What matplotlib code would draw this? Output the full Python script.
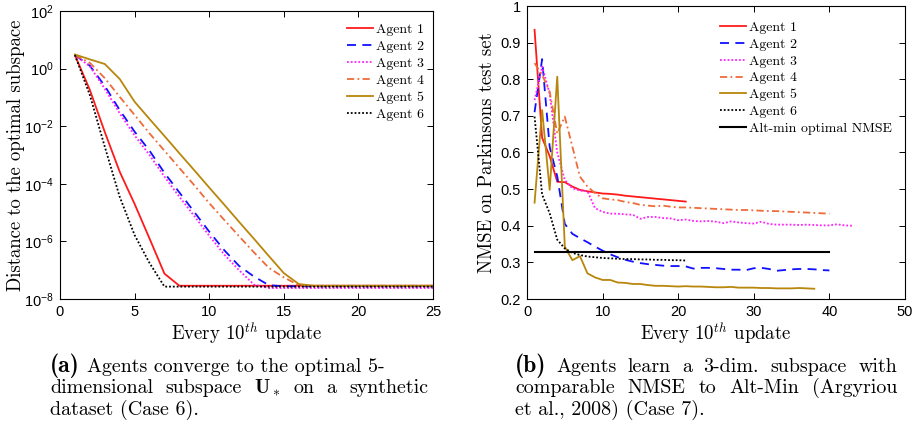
import matplotlib
matplotlib.use("Agg")
import matplotlib.pyplot as plt
import matplotlib.transforms as mtransforms
from matplotlib.ticker import FuncFormatter, NullLocator

# === dati: pannello (a), log10 della distanza dal sottospazio ottimo ===
steps_a = list(range(1, 26))
log_agent1_a = [0.47, -0.74, -2.2, -3.58, -4.7, -5.9, -7.12, -7.54, -7.54, -7.54,
                -7.54, -7.54, -7.54, -7.54, -7.54, -7.54, -7.54, -7.54, -7.54, -7.54,
                -7.54, -7.54, -7.54, -7.54, -7.54]
log_agent2_a = [0.47, 0.1, -0.6, -1.44, -2.19, -2.85, -3.62, -4.3, -4.98, -5.66,
                -6.3, -6.85, -7.22, -7.52, -7.56, -7.56, -7.56, -7.56, -7.56, -7.56,
                -7.56, -7.56, -7.56, -7.56, -7.56]
log_agent3_a = [0.47, 0.08, -0.7, -1.55, -2.32, -3.0, -3.75, -4.45, -5.12, -5.8,
                -6.45, -7.0, -7.5, -7.62, -7.62, -7.62, -7.62, -7.62, -7.62, -7.62,
                -7.62, -7.62, -7.62, -7.62, -7.62]
log_agent4_a = [0.47, 0.2, -0.33, -0.98, -1.61, -2.25, -2.85, -3.45, -4.05, -4.67,
                -5.25, -5.82, -6.38, -6.92, -7.25, -7.52, -7.54, -7.54, -7.54, -7.54,
                -7.54, -7.54, -7.54, -7.54, -7.54]
log_agent5_a = [0.49, 0.32, 0.16, -0.36, -1.15, -1.75, -2.34, -2.94, -3.53, -4.13,
                -4.72, -5.32, -5.91, -6.51, -7.1, -7.48, -7.54, -7.54, -7.54, -7.54,
                -7.54, -7.54, -7.54, -7.54, -7.54]
log_agent6_a = [0.47, -0.92, -2.71, -4.45, -5.78, -6.75, -7.57, -7.57, -7.57, -7.57,
                -7.57, -7.57, -7.57, -7.57, -7.57, -7.57, -7.57, -7.57, -7.57, -7.57,
                -7.57, -7.57, -7.57, -7.57, -7.57]

# === dati: pannello (b), NMSE sul test set Parkinsons ===
nmse_agent1 = [0.935, 0.64, 0.59, 0.52, 0.519, 0.507, 0.498, 0.494, 0.491, 0.488,
               0.487, 0.485, 0.482, 0.48, 0.478, 0.476, 0.474, 0.472, 0.47, 0.468, 0.466]
nmse_agent2 = [0.71, 0.855, 0.615, 0.535, 0.405, 0.378, 0.366, 0.355, 0.343, 0.332,
               0.322, 0.314, 0.307, 0.302, 0.298, 0.295, 0.293, 0.291, 0.29, 0.29,
               0.289, 0.283, 0.285, 0.285, 0.284, 0.282, 0.28, 0.28, 0.279, 0.284,
               0.285, 0.282, 0.277, 0.279, 0.281, 0.282, 0.282, 0.281, 0.279, 0.278]
nmse_agent3 = [0.743, 0.835, 0.76, 0.6, 0.525, 0.502, 0.496, 0.494, 0.448, 0.438,
               0.433, 0.433, 0.431, 0.43, 0.419, 0.424, 0.424, 0.421, 0.42, 0.415,
               0.417, 0.413, 0.412, 0.413, 0.411, 0.407, 0.412, 0.409, 0.407, 0.406,
               0.411, 0.405, 0.403, 0.403, 0.403, 0.402, 0.403, 0.402, 0.401, 0.401,
               0.404, 0.401, 0.4]
nmse_agent4 = [0.844, 0.812, 0.766, 0.652, 0.698, 0.616, 0.534, 0.507, 0.489, 0.475,
               0.472, 0.47, 0.465, 0.462, 0.457, 0.455, 0.453, 0.455, 0.452, 0.45,
               0.45, 0.449, 0.448, 0.447, 0.446, 0.445, 0.444, 0.443, 0.443, 0.442,
               0.441, 0.44, 0.44, 0.439, 0.438, 0.437, 0.436, 0.435, 0.434, 0.433]
nmse_agent5 = [0.463, 0.716, 0.498, 0.807, 0.343, 0.306, 0.317, 0.27, 0.259, 0.252,
               0.252, 0.245, 0.244, 0.241, 0.241, 0.238, 0.236, 0.236, 0.235, 0.234,
               0.235, 0.234, 0.234, 0.233, 0.232, 0.232, 0.233, 0.231, 0.231, 0.231,
               0.23, 0.23, 0.229, 0.229, 0.229, 0.23, 0.229, 0.228]
nmse_agent6 = [0.698, 0.485, 0.434, 0.362, 0.338, 0.326, 0.32, 0.316, 0.314, 0.312,
               0.311, 0.31, 0.309, 0.309, 0.308, 0.308, 0.307, 0.307, 0.306, 0.306, 0.305]
altmin_x = [1, 40]
altmin_nmse = [0.328, 0.328]

agent_labels = ["Agent 1", "Agent 2", "Agent 3", "Agent 4", "Agent 5", "Agent 6"]
altmin_label = "Alt-min optimal NMSE"

caption_a = ["Agents converge to the optimal 5-",
             r"dimensional subspace $\mathbf{U}_*$ on a synthetic",
             "dataset (Case 6)."]
caption_b = ["Agents learn a 3-dim. subspace with",
             "comparable NMSE to Alt-Min (Argyriou",
             "et al., 2008) (Case 7)."]

# === stile ===
W, H = 916, 423
plt.rcParams['mathtext.fontset'] = 'cm'
plt.rcParams['font.family'] = ['Liberation Sans', 'DejaVu Sans']
SERIF = 'cmr10'

styles = [
    dict(color='#ff1a1a', linestyle='-'),
    dict(color='#1010ff', linestyle=(0, (5, 3.5))),
    dict(color='#ff22ff', linestyle=(0, (1, 1.1))),
    dict(color='#ee6c3a', linestyle=(0, (4, 1.8, 1, 1.8))),
    dict(color='#b8860b', linestyle='-'),
    dict(color='black', linestyle=(0, (1, 1.1))),
]
LW = 1.3

fig = plt.figure(figsize=(W / 100, H / 100), dpi=100)


def px_axes(x0, y0, x1, y1):
    # coordinate in pixel dall'alto a sinistra
    return fig.add_axes([x0 / W, 1 - y1 / H, (x1 - x0) / W, (y1 - y0) / H])


def style_axes(ax):
    ax.tick_params(direction='in', top=True, right=True, length=4, width=0.7,
                   labelsize=10.5, pad=4.5)
    for s in ax.spines.values():
        s.set_linewidth(0.8)


# === pannello (a) ===
ax1 = px_axes(60, 11, 433, 299)
series_a = [log_agent1_a, log_agent2_a, log_agent3_a, log_agent4_a, log_agent5_a, log_agent6_a]
for vals, lab, st in zip(series_a, agent_labels, styles):
    ax1.plot(steps_a, [10 ** v for v in vals], label=lab, lw=LW, **st)
ax1.set_yscale('log')
ax1.set_xlim(0, 25)
ax1.set_ylim(1e-8, 1e2)
ax1.set_yticks([1e-8, 1e-6, 1e-4, 1e-2, 1e0, 1e2])
ax1.yaxis.set_minor_locator(NullLocator())
ax1.set_xticks(range(0, 26, 5))
style_axes(ax1)
ax1.set_xlabel(r"Every $10^{th}$ update", family=SERIF, fontsize=13.5, labelpad=2)
ax1.set_ylabel("Distance to the optimal subspace", family=SERIF, fontsize=13.5, labelpad=-1)
ax1.legend(loc='upper left', bbox_to_anchor=((334 - 60) / 373, 1.0), frameon=False,
           prop={'family': SERIF, 'size': 10}, handlelength=1.9, handletextpad=0.25,
           labelspacing=0.31, borderaxespad=0.5)

# === pannello (b) ===
ax2 = px_axes(527, 6, 905, 299)
series_b = [nmse_agent1, nmse_agent2, nmse_agent3, nmse_agent4, nmse_agent5, nmse_agent6]
for vals, lab, st in zip(series_b, agent_labels, styles):
    ax2.plot(range(1, len(vals) + 1), vals, label=lab, lw=LW, **st)
ax2.plot(altmin_x, altmin_nmse, color='black', lw=1.5, label=altmin_label)
ax2.set_xlim(0, 50)
ax2.set_ylim(0.2, 1.0)
ax2.set_xticks(range(0, 51, 10))
ax2.set_yticks([0.2 + 0.1 * i for i in range(9)])
ax2.yaxis.set_major_formatter(FuncFormatter(lambda v, p: "%g" % round(v, 2)))
style_axes(ax2)
ax2.set_xlabel(r"Every $10^{th}$ update", family=SERIF, fontsize=13.5, labelpad=2)
ax2.set_ylabel("NMSE on Parkinsons test set", family=SERIF, fontsize=13.5, labelpad=3)
ax2.legend(loc='upper left', bbox_to_anchor=((707 - 527) / 378, 1 - 3 / 293), frameon=False,
           prop={'family': SERIF, 'size': 10}, handlelength=1.9, handletextpad=0.25,
           labelspacing=0.29, borderaxespad=0.5)

# === didascalie ===
ident = mtransforms.IdentityTransform()
fig.canvas.draw()
rend = fig.canvas.get_renderer()
CAP = 14.4


def put_text(x, y, s, **kw):
    return fig.text(x, H - y, s, transform=ident, va='baseline', ha='left', **kw)


def put_justified(x0, x1, y, line):
    words = line.split(" ")
    ts = [put_text(0, y, w, family=SERIF, fontsize=CAP) for w in words]
    widths = [t.get_window_extent(rend).width for t in ts]
    gap = (x1 - x0 - sum(widths)) / (len(words) - 1)
    x = x0
    for t, w in zip(ts, widths):
        t.set_x(x)
        x += w + gap


def caption(x0, x1, text_x, tag, lines, justify):
    put_text(x0, 371.5, tag, family='cmb10', fontsize=17)
    ys = [371.5, 393.2, 415]
    for i, (line, y) in enumerate(zip(lines, ys)):
        start = text_x if i == 0 else x0
        if justify[i]:
            put_justified(start, x1, y, line)
        else:
            put_text(start, y, line, family=SERIF, fontsize=CAP)


caption(50, 428, 87, "(a)", caption_a, [False, True, False])
caption(515, 897, 556, "(b)", caption_b, [True, True, False])

fig.savefig("out.png", dpi=100)
